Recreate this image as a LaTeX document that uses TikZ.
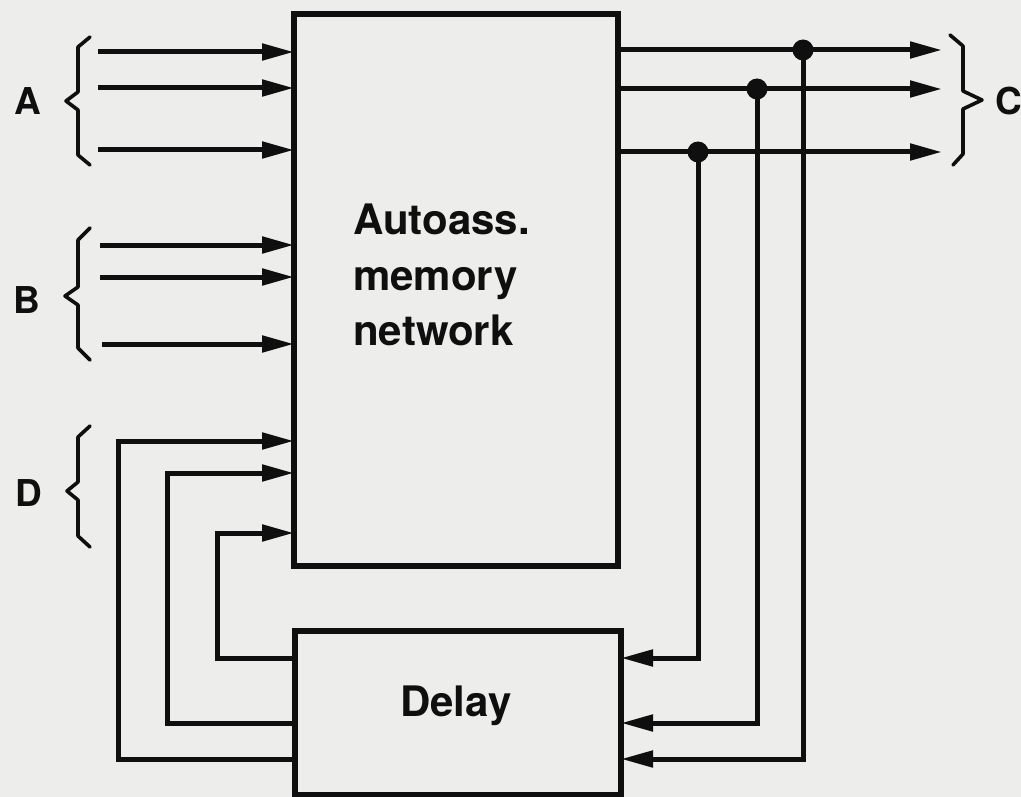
\documentclass[tikz,border=0pt]{standalone}
\usepackage{fontspec}
\newfontfamily\hv{TeX Gyre Heros}
\usetikzlibrary{arrows.meta}
\definecolor{inkc}{RGB}{15,15,15}
\definecolor{paper}{RGB}{237,237,235}
\tikzset{
  ink/.style={draw=inkc, line width=5pt, line join=miter},
  arr/.style={ink, -{Triangle[length=32pt,width=16pt]}},
  blockbox/.style={draw=inkc, line width=5.5pt, inner sep=0pt, outer sep=0pt},
  bracepath/.style={draw=inkc, line width=3.6pt, line join=round, line cap=round},
  lbl/.style={font=\hv\bfseries\fontsize{37}{40}\selectfont, text=inkc, inner sep=0pt},
  txt/.style={font=\hv\bfseries\fontsize{42}{50}\selectfont, text=inkc, inner sep=0pt},
  junction/.style={circle, fill=inkc, minimum size=21pt, inner sep=0pt}
}
\begin{document}
\begin{tikzpicture}[x=1pt,y=-1pt]
\useasboundingbox (0,0) rectangle (1021,797);
\fill[paper] (0,0) rectangle (1021,797);

% blocks
\node[blockbox, minimum width=324pt, minimum height=552pt] (mem) at (456,290) {};
\node[blockbox, minimum width=326pt, minimum height=164pt] (delay) at (458,713) {};

% texts
\node[txt, anchor=base west] (t1) at (353,235) {Autoass.};
\node[txt, anchor=base west] (t2) at (353,290) {memory};
\node[txt, anchor=base west] (t3) at (353,345) {network};
\node[txt, anchor=base] (tdelay) at (456,716) {Delay};

% labels
\node[lbl, anchor=base] (la) at (28,115) {A};
\node[lbl, anchor=base] (lb) at (27,313) {B};
\node[lbl, anchor=base] (ld) at (29,506) {D};
\node[lbl, anchor=base west] (lc) at (995,115) {C};

% braces
\draw[bracepath] (90,37) -- (78,47) -- (78,92) -- (66,101) -- (78,110) -- (78,155) -- (90,165);
\draw[bracepath] (90,228) -- (78,240) -- (78,287) -- (65,296) -- (78,305) -- (78,348) -- (90,360);
\draw[bracepath] (90,426) -- (78,437) -- (78,482) -- (67,491) -- (78,500) -- (78,536) -- (90,547);
\draw[bracepath] (950,35) -- (963,46) -- (963,91) -- (982,100) -- (963,109) -- (963,154) -- (953,165);

% inputs A and B
\coordinate (a1) at (98,52);
\coordinate (a2) at (98,88);
\coordinate (a3) at (98,150);
\coordinate (b1) at (100,245);
\coordinate (b2) at (100,277);
\coordinate (b3) at (102,344);
\foreach \p in {a1,a2,a3,b1,b2,b3} \draw[arr] (\p) -- (\p -| mem.west);

% outputs C
\coordinate (c1) at (942,50);
\coordinate (c2) at (942,89);
\coordinate (c3) at (942,152);
\foreach \p in {c1,c2,c3} \draw[arr] (\p -| mem.east) -- (\p);

% junctions
\node[junction] (j1) at (803,50) {};
\node[junction] (j2) at (757,89) {};
\node[junction] (j3) at (698,152) {};

% right feedback to delay
\coordinate (r1) at (803,759);
\coordinate (r2) at (757,723);
\coordinate (r3) at (698,658);
\draw[arr] (j1.center) -- (r1) -- (r1 -| delay.east);
\draw[arr] (j2.center) -- (r2) -- (r2 -| delay.east);
\draw[arr] (j3.center) -- (r3) -- (r3 -| delay.east);

% left feedback (D) from delay to memory
\coordinate (l1b) at (118,759);
\coordinate (l1t) at (118,441);
\coordinate (l2b) at (167,723);
\coordinate (l2t) at (167,473);
\coordinate (l3b) at (217,658);
\coordinate (l3t) at (217,533);
\draw[arr] (l1b -| delay.west) -- (l1b) -- (l1t) -- (l1t -| mem.west);
\draw[arr] (l2b -| delay.west) -- (l2b) -- (l2t) -- (l2t -| mem.west);
\draw[arr] (l3b -| delay.west) -- (l3b) -- (l3t) -- (l3t -| mem.west);
\end{tikzpicture}
\end{document}
